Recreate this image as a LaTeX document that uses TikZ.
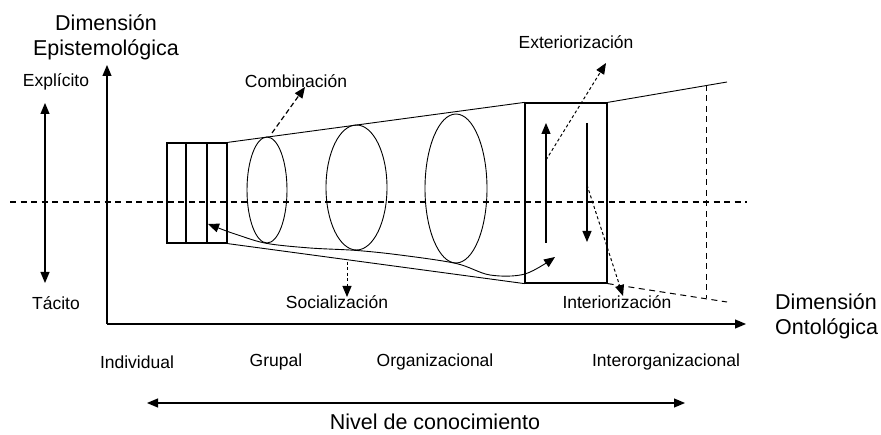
\documentclass[tikz,border=0pt]{standalone}
\usepackage{fontspec}
\setmainfont{Liberation Sans}
\usetikzlibrary{arrows.meta,shapes.geometric}
\begin{document}
\begin{tikzpicture}[x=1pt,y=-1pt,
  lbl/.style={inner sep=0pt,font=\fontsize{17.5}{20}\selectfont},
  big/.style={inner sep=0pt,font=\fontsize{21.5}{25}\selectfont},
  ln/.style={line width=1.2pt},
  thin/.style={line width=0.9pt},
  tipa/.style={-{Triangle[length=11pt,width=9pt]}},
  tipb/.style={{Triangle[length=11pt,width=9pt]}-{Triangle[length=11pt,width=9pt]}},
  midline/.style={line width=1.1pt,dash pattern=on 6pt off 4.5pt},
  shortdash/.style={line width=1pt,dash pattern=on 3pt off 2.5pt},
  meddash/.style={line width=1.2pt,dash pattern=on 5pt off 3pt},
  ell/.style={ellipse,draw,thin,inner sep=0pt},
  cell/.style={rectangle,draw,ln,inner sep=0pt,minimum height=100pt}
]
\useasboundingbox (0,0) rectangle (881,435);

% texts
\node[big,align=center] (depi) at (106,37.5) {Dimensión\\Epistemológica};
\node[big,align=left,anchor=west] (dont) at (775,316) {Dimensión\\Ontológica};
\node[lbl] (expl) at (56,82) {Explícito};
\node[lbl] (taci) at (56,303) {Tácito};
\node[lbl] (comb) at (296,81) {Combinación};
\node[lbl] (exte) at (576,42) {Exteriorización};
\node[lbl] (soci) at (337,302) {Socialización};
\node[lbl] (inte) at (617,302) {Interiorización};
\node[lbl] (indi) at (137,362) {Individual};
\node[lbl] (grup) at (276,362) {Grupal};
\node[lbl] (orga) at (435,362) {Organizacional};
\node[lbl] (inter) at (666,362) {Interorganizacional};
\node[big] (nivel) at (435,422) {Nivel de conocimiento};

% axes
\coordinate (o) at (107,324);
\coordinate (ytop) at (107,65);
\coordinate (xend) at (746,324);
\draw[ln,tipa] (o) -- (ytop);
\draw[ln,tipa] (o) -- (xend);

% middle dashed line
\coordinate (ml) at (10,202);
\coordinate (mr) at (747,202);
\draw[midline] (ml) -- (mr);

% explicit/tacit arrow
\coordinate (et1) at (45,103);
\coordinate (et2) at (45,283);
\draw[ln,tipb] (et1) -- (et2);

% level arrow
\coordinate (lv1) at (147,403);
\coordinate (lv2) at (685,403);
\draw[ln,tipb] (lv1) -- (lv2);

% left cells
\node[cell,minimum width=19pt] (r1) at (176.5,193) {};
\node[cell,minimum width=21pt] (r2) at (196.5,193) {};
\node[cell,minimum width=20pt] (r3) at (217,193) {};

% box
\node[draw,ln,inner sep=0pt,minimum width=82pt,minimum height=180pt] (box) at (566,193) {};

% cone lines
\coordinate (uend) at (727,82);
\coordinate (lend) at (727,302);
\draw[thin] (r3.north east) -- (box.north west);
\draw[thin] (r3.south east) -- (box.south west);
\draw[thin] (box.north east) -- (uend);
\draw[midline,line width=1pt] (box.south east) -- (lend);
\coordinate (vt) at (706,85);
\coordinate (vb) at (706,298);
\draw[midline,line width=1pt] (vt) -- (vb);

% ellipses
\node[ell,minimum width=40pt,minimum height=106pt] (e1) at (267,190) {};
\node[ell,minimum width=61pt,minimum height=125pt] (e2) at (356.5,187.5) {};
\node[ell,minimum width=62pt,minimum height=149pt] (e3) at (456,188.5) {};

% arrows in box
\coordinate (ua1) at (546,243);
\coordinate (ua2) at (546,123);
\coordinate (da1) at (587,123);
\coordinate (da2) at (587,242);
\draw[ln,tipa] (ua1) -- (ua2);
\draw[ln,tipa] (da1) -- (da2);

% socialization spiral curve
\coordinate (s1) at (208,224);
\coordinate (s2) at (238,235);
\coordinate (s3) at (310,248);
\coordinate (s4) at (400,255);
\coordinate (s5) at (490,275);
\coordinate (s6) at (525,274);
\coordinate (s7) at (555,257);
\draw[thin,tipb] plot[smooth,tension=0.55] coordinates {(s1) (s2) (e1.south) (s3) (e2.south) (s4) (e3.south) (s5) (s6) (s7)};

% dashed mode arrows
\coordinate (cb1) at (272,133);
\coordinate (cb2) at (305,87);
\draw[meddash,tipa] (cb1) -- (cb2);
\coordinate (ex1) at (546,160);
\coordinate (ex2) at (606,63);
\draw[shortdash,tipa] (ex1) -- (ex2);
\coordinate (in1) at (587,185);
\coordinate (in2) at (623,296);
\draw[shortdash,tipa] (in1) -- (in2);
\coordinate (so1) at (347,262);
\coordinate (so2) at (347,297);
\draw[shortdash,tipa] (so1) -- (so2);
\end{tikzpicture}
\end{document}
